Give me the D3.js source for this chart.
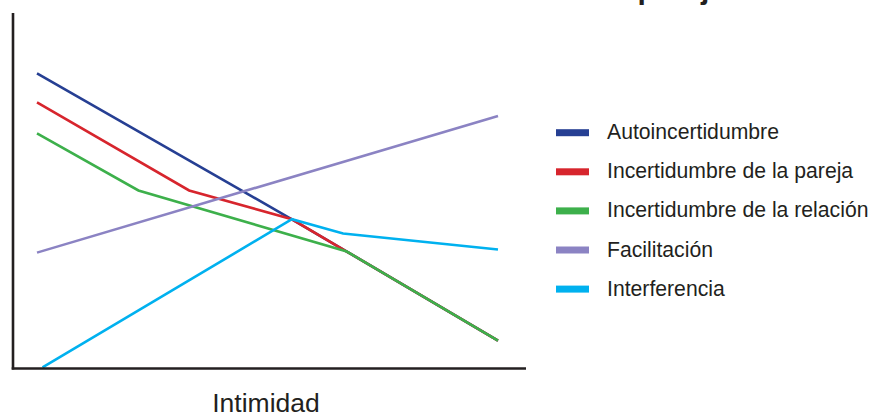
<!DOCTYPE html>
<html>
<head>
<meta charset="utf-8">
<script src="https://cdn.jsdelivr.net/npm/d3@7"></script>
<style>
  body { margin: 0; background: #fff; }
  svg { display: block; font-family: "Liberation Sans", Arial, sans-serif; }
</style>
</head>
<body>
<svg id="chart" width="873" height="415"></svg>
<script>
// series names and colours
const seriesNames = ["Autoincertidumbre", "Incertidumbre de la pareja", "Incertidumbre de la relación", "Facilitación", "Interferencia"];
const seriesColors = ["#263f93", "#d7252d", "#3db04b", "#8b83c3", "#00b1ef"];

// [intimidad, valor] for each series (0-100 arbitrary units)
const autoincertidumbre = [[0, 83], [55.3, 41.9], [67.2, 32.8], [100, 7.7]];
const incertPareja = [[0, 74.8], [33, 50], [55.3, 41.9], [67.2, 32.8], [100, 7.7]];
const incertRelacion = [[0, 66.1], [22, 50], [67.2, 32.8], [100, 7.7]];
const facilitacion = [[0, 32.5], [100, 71]];
const interferencia = [[1.2, 0.2], [55.3, 41.9], [66.4, 37.9], [100, 33.4]];

const seriesData = [autoincertidumbre, incertPareja, incertRelacion, facilitacion, interferencia];

const svg = d3.select("#chart");

const x = d3.scaleLinear().domain([0, 100]).range([37, 498]);
const y = d3.scaleLinear().domain([0, 100]).range([368, 13]);

// title (cut off at the top in the original)
svg.append("text")
  .attr("x", 726)
  .attr("y", -1)
  .attr("text-anchor", "end")
  .attr("font-size", "30px")
  .attr("font-weight", "bold")
  .attr("fill", "#231f20")
  .text("Incertidumbre relacional en la pareja");

const line = d3.line().x(d => x(d[0])).y(d => y(d[1]));

svg.append("g")
  .selectAll("path")
  .data(seriesData)
  .join("path")
  .attr("d", line)
  .attr("fill", "none")
  .attr("stroke", (d, i) => seriesColors[i])
  .attr("stroke-width", 2.6);

// axes (plain lines, no ticks)
svg.append("line")
  .attr("x1", 13).attr("x2", 13)
  .attr("y1", 13).attr("y2", 369.5)
  .attr("stroke", "#231f20").attr("stroke-width", 2.6);
svg.append("line")
  .attr("x1", 11.7).attr("x2", 526)
  .attr("y1", 368.5).attr("y2", 368.5)
  .attr("stroke", "#231f20").attr("stroke-width", 2.6);

svg.append("text")
  .attr("x", 266)
  .attr("y", 412)
  .attr("text-anchor", "middle")
  .attr("font-size", "26.5px")
  .attr("fill", "#231f20")
  .text("Intimidad");

// legend
const legend = svg.append("g")
  .selectAll("g")
  .data(seriesNames)
  .join("g")
  .attr("transform", (d, i) => `translate(556,${132.7 + i * 39.1})`);

legend.append("rect")
  .attr("x", 0).attr("y", -3.5)
  .attr("width", 33).attr("height", 7)
  .attr("fill", (d, i) => seriesColors[i]);

legend.append("text")
  .attr("x", 51)
  .attr("y", 6.5)
  .attr("font-size", "21.2px")
  .attr("fill", "#231f20")
  .text(d => d);
</script>
</body>
</html>
